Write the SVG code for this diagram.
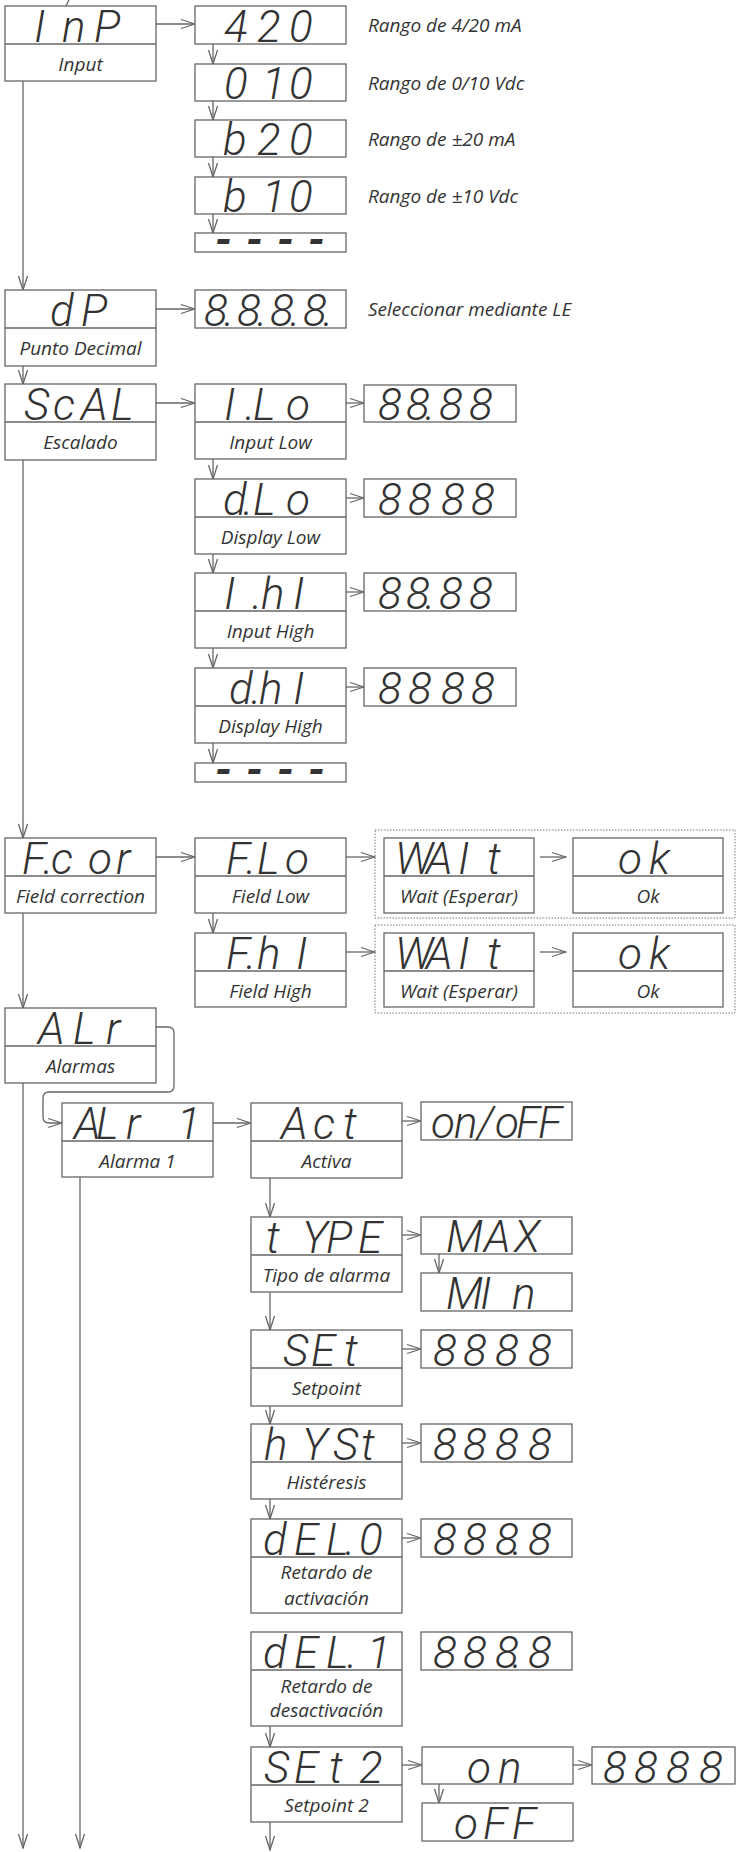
<svg xmlns="http://www.w3.org/2000/svg" width="736" height="1852" viewBox="0 0 736 1852">
<style>
.b{fill:#fff;stroke:#666;stroke-width:1.3}
.d{stroke:#666;stroke-width:1.3}
.s{font-family:Roboto,"DejaVu Sans",sans-serif;font-style:italic;font-weight:300;font-size:44px;fill:#333}
.s.k{font-weight:700}
.l{font-family:"Open Sans","Liberation Sans",sans-serif;font-style:italic;font-size:19px;fill:#333;text-anchor:middle}
.t{font-family:"Open Sans","Liberation Sans",sans-serif;font-style:italic;font-size:19px;fill:#333}
.c{fill:none;stroke:#666;stroke-width:1.3;marker-end:url(#ah)}
.g{fill:none;stroke:#777;stroke-width:1;stroke-dasharray:1.5 1.5}
</style>
<defs>
<marker id="ah" viewBox="0 0 16 12" markerWidth="16" markerHeight="12" refX="15" refY="6" orient="auto" markerUnits="userSpaceOnUse"><path d="M1,1.5 L15,6 L1,10.5" fill="none" stroke="#666" stroke-width="1.3"/></marker>
</defs>
<rect width="736" height="1852" fill="#fff"/>

<g id="connectors">
<path d="M69,0 L66,6" fill="none" stroke="#666" stroke-width="1.3"/>
<path class="c" d="M156,24 H195"/>
<path class="c" d="M213,44 V64"/>
<path class="c" d="M213,101 V120"/>
<path class="c" d="M213,157 V177"/>
<path class="c" d="M213,214 V233"/>
<path class="c" d="M23,81 V290"/>
<path class="c" d="M156,309 H195"/>
<path class="c" d="M23,366 V384"/>
<path class="c" d="M156,403 H195"/>
<path class="c" d="M346,403 H364"/>
<path class="c" d="M213,459 V479"/>
<path class="c" d="M346,498 H364"/>
<path class="c" d="M213,554 V573"/>
<path class="c" d="M346,592 H364"/>
<path class="c" d="M213,648 V668"/>
<path class="c" d="M346,687 H364"/>
<path class="c" d="M213,743 V763"/>
<path class="c" d="M23,460 V838"/>
<path class="c" d="M156,857 H195"/>
<path class="c" d="M346,857 H375"/>
<path class="c" d="M540,857 H566"/>
<path class="c" d="M213,913 V933"/>
<path class="c" d="M346,952 H375"/>
<path class="c" d="M540,952 H566"/>
<path class="c" d="M23,913 V1008"/>
<path class="c" d="M156,1027 H168 Q174,1027 174,1033 V1086 Q174,1092 168,1092 H49 Q43,1092 43,1098 V1117 Q43,1123 49,1123 H62"/>
<path class="c" d="M23,1083 V1848"/>
<path class="c" d="M80,1177 V1848"/>
<path class="c" d="M213,1123 H251"/>
<path class="c" d="M402,1121 H421"/>
<path class="c" d="M270,1178 V1217"/>
<path class="c" d="M402,1235 H421"/>
<path class="c" d="M439,1254 V1273"/>
<path class="c" d="M270,1292 V1330"/>
<path class="c" d="M402,1349 H421"/>
<path class="c" d="M270,1406 V1424"/>
<path class="c" d="M402,1443 H421"/>
<path class="c" d="M270,1499 V1519"/>
<path class="c" d="M402,1538 H421"/>
<path class="c" d="M270,1726 V1747"/>
<path class="c" d="M402,1765 H422"/>
<path class="c" d="M573,1765 H592"/>
<path class="c" d="M439,1784 V1803"/>
<path class="c" d="M270,1822 V1850"/>
</g>

<g id="n-inp"><rect class="b" x="5" y="6" width="151" height="75"/><line class="d" x1="5" y1="44" x2="156" y2="44"/><text class="s" x="34 62 94" y="42">InP</text><text class="l" x="80.5" y="71">Input</text></g>
<g id="n-420"><rect class="b" x="195" y="6" width="151" height="38"/><text class="s" x="224 257 289" y="42">420</text></g>
<text class="t" x="368" y="32">Rango de 4/20 mA</text>
<g id="n-010"><rect class="b" x="195" y="64" width="151" height="37"/><text class="s" x="224 262 289" y="99">010</text></g>
<text class="t" x="368" y="90">Rango de 0/10 Vdc</text>
<g id="n-b20"><rect class="b" x="195" y="120" width="151" height="37"/><text class="s" x="223 257 289" y="155">b20</text></g>
<text class="t" x="368" y="146">Rango de ±20 mA</text>
<g id="n-b10"><rect class="b" x="195" y="177" width="151" height="37"/><text class="s" x="223 262 289" y="212">b10</text></g>
<text class="t" x="368" y="203">Rango de ±10 Vdc</text>
<g id="n-dash1"><rect class="b" x="195" y="233" width="151" height="19"/><text class="s k" x="215 246 277 308" y="255">----</text></g>

<g id="n-dp"><rect class="b" x="5" y="290" width="151" height="76"/><line class="d" x1="5" y1="328" x2="156" y2="328"/><text class="s" x="50 81" y="326">dP</text><text class="l" x="80.5" y="355">Punto Decimal</text></g>
<g id="n-dpval"><rect class="b" x="195" y="290" width="151" height="38"/><text class="s" x="204 224 237 257 270 290 303 323" y="326">8.8.8.8.</text></g>
<text class="t" x="368" y="316">Seleccionar mediante LE</text>

<g id="n-scal"><rect class="b" x="5" y="384" width="151" height="76"/><line class="d" x1="5" y1="422" x2="156" y2="422"/><text class="s" x="24 53 81 111" y="420">ScAL</text><text class="l" x="80.5" y="449">Escalado</text></g>
<g id="n-ilo"><rect class="b" x="195" y="384" width="151" height="75"/><line class="d" x1="195" y1="422" x2="346" y2="422"/><text class="s" x="224 245 253 286" y="420">I.Lo</text><text class="l" x="270.5" y="449">Input Low</text></g>
<g id="n-ilo-v"><rect class="b" x="364" y="385" width="152" height="37"/><text class="s" x="378 406 425 439 469" y="420">88.88</text></g>
<g id="n-dlo"><rect class="b" x="195" y="479" width="151" height="75"/><line class="d" x1="195" y1="517" x2="346" y2="517"/><text class="s" x="223 243 253 286" y="515">d.Lo</text><text class="l" x="270.5" y="544">Display Low</text></g>
<g id="n-dlo-v"><rect class="b" x="364" y="479" width="152" height="38"/><text class="s" x="378 408 441 471" y="515">8888</text></g>
<g id="n-ihi"><rect class="b" x="195" y="573" width="151" height="75"/><line class="d" x1="195" y1="611" x2="346" y2="611"/><text class="s" x="224 252 261 293" y="609">I.hI</text><text class="l" x="270.5" y="638">Input High</text></g>
<g id="n-ihi-v"><rect class="b" x="364" y="573" width="152" height="38"/><text class="s" x="378 406 425 439 469" y="609">88.88</text></g>
<g id="n-dhi"><rect class="b" x="195" y="668" width="151" height="75"/><line class="d" x1="195" y1="706" x2="346" y2="706"/><text class="s" x="229 251 259 293" y="704">d.hI</text><text class="l" x="270.5" y="733">Display High</text></g>
<g id="n-dhi-v"><rect class="b" x="364" y="668" width="152" height="38"/><text class="s" x="378 408 441 471" y="704">8888</text></g>
<g id="n-dash2"><rect class="b" x="195" y="763" width="151" height="19"/><text class="s k" x="215 246 277 308" y="785">----</text></g>

<g id="n-fcor"><rect class="b" x="5" y="838" width="151" height="75"/><line class="d" x1="5" y1="876" x2="156" y2="876"/><text class="s" x="22 43 51 88 116" y="874">F.cor</text><text class="l" x="80.5" y="903">Field correction</text></g>
<g id="n-flo"><rect class="b" x="195" y="838" width="151" height="75"/><line class="d" x1="195" y1="876" x2="346" y2="876"/><text class="s" x="226 246 257 285" y="874">F.Lo</text><text class="l" x="270.5" y="903">Field Low</text></g>
<g id="grp-lo"><rect class="g" x="375" y="830" width="360" height="88"/></g>
<g id="n-wait1"><rect class="b" x="384" y="838" width="150" height="75"/><line class="d" x1="384" y1="876" x2="534" y2="876"/><text class="s" x="395 426 458 487" y="874">WAIt</text><text class="l" x="459" y="903">Wait (Esperar)</text></g>
<g id="n-ok1"><rect class="b" x="573" y="838" width="150" height="75"/><line class="d" x1="573" y1="876" x2="723" y2="876"/><text class="s" x="618 649" y="874">ok</text><text class="l" x="648" y="903">Ok</text></g>
<g id="n-fhi"><rect class="b" x="195" y="933" width="151" height="74"/><line class="d" x1="195" y1="971" x2="346" y2="971"/><text class="s" x="226 246 257 296" y="969">F.hI</text><text class="l" x="270.5" y="998">Field High</text></g>
<g id="grp-hi"><rect class="g" x="375" y="925" width="360" height="88"/></g>
<g id="n-wait2"><rect class="b" x="384" y="933" width="150" height="74"/><line class="d" x1="384" y1="971" x2="534" y2="971"/><text class="s" x="395 426 458 487" y="969">WAIt</text><text class="l" x="459" y="998">Wait (Esperar)</text></g>
<g id="n-ok2"><rect class="b" x="573" y="933" width="150" height="74"/><line class="d" x1="573" y1="971" x2="723" y2="971"/><text class="s" x="618 649" y="969">ok</text><text class="l" x="648" y="998">Ok</text></g>

<g id="n-alr"><rect class="b" x="5" y="1008" width="151" height="75"/><line class="d" x1="5" y1="1046" x2="156" y2="1046"/><text class="s" x="38 73 106" y="1044">ALr</text><text class="l" x="80.5" y="1073">Alarmas</text></g>
<g id="n-alr1"><rect class="b" x="62" y="1103" width="151" height="74"/><line class="d" x1="62" y1="1141" x2="213" y2="1141"/><text class="s" x="74 96 126 177" y="1139">ALr1</text><text class="l" x="137.5" y="1168">Alarma 1</text></g>
<g id="n-act"><rect class="b" x="251" y="1103" width="151" height="75"/><line class="d" x1="251" y1="1141" x2="402" y2="1141"/><text class="s" x="281 313 343" y="1139">Act</text><text class="l" x="326.5" y="1168">Activa</text></g>
<g id="n-act-v"><rect class="b" x="421" y="1102" width="151" height="38"/><text class="s" x="431 454 477 495 516 538" y="1138">on/oFF</text></g>
<g id="n-type"><rect class="b" x="251" y="1217" width="151" height="75"/><line class="d" x1="251" y1="1255" x2="402" y2="1255"/><text class="s" x="266 302 326 358" y="1253">tYPE</text><text class="l" x="326.5" y="1282">Tipo de alarma</text></g>
<g id="n-max"><rect class="b" x="421" y="1217" width="151" height="37"/><text class="s" x="446 484 514" y="1252">MAX</text></g>
<g id="n-min"><rect class="b" x="421" y="1273" width="151" height="38"/><text class="s" x="446 480 512" y="1309">MIn</text></g>
<g id="n-set"><rect class="b" x="251" y="1330" width="151" height="76"/><line class="d" x1="251" y1="1368" x2="402" y2="1368"/><text class="s" x="283 311 344" y="1366">SEt</text><text class="l" x="326.5" y="1395">Setpoint</text></g>
<g id="n-set-v"><rect class="b" x="421" y="1330" width="151" height="38"/><text class="s" x="433 463 495 528" y="1366">8888</text></g>
<g id="n-hyst"><rect class="b" x="251" y="1424" width="151" height="75"/><line class="d" x1="251" y1="1462" x2="402" y2="1462"/><text class="s" x="264 302 333 361" y="1460">hYSt</text><text class="l" x="326.5" y="1489">Histéresis</text></g>
<g id="n-hyst-v"><rect class="b" x="421" y="1424" width="151" height="38"/><text class="s" x="433 463 495 528" y="1460">8888</text></g>
<g id="n-del0"><rect class="b" x="251" y="1519" width="151" height="94"/><line class="d" x1="251" y1="1557" x2="402" y2="1557"/><text class="s" x="263 294 326 345 359" y="1555">dEL.0</text><text class="l" x="326.5" y="1579">Retardo de</text><text class="l" x="326.5" y="1605">activación</text></g>
<g id="n-del0-v"><rect class="b" x="421" y="1519" width="151" height="38"/><text class="s" x="433 463 495 512 528" y="1555">888.8</text></g>
<g id="n-del1"><rect class="b" x="251" y="1632" width="151" height="94"/><line class="d" x1="251" y1="1670" x2="402" y2="1670"/><text class="s" x="263 294 326 347 367" y="1668">dEL.1</text><text class="l" x="326.5" y="1693">Retardo de</text><text class="l" x="326.5" y="1717">desactivación</text></g>
<g id="n-del1-v"><rect class="b" x="421" y="1632" width="151" height="38"/><text class="s" x="433 463 495 512 528" y="1668">888.8</text></g>
<g id="n-set2"><rect class="b" x="251" y="1747" width="151" height="75"/><line class="d" x1="251" y1="1785" x2="402" y2="1785"/><text class="s" x="264 294 329 359" y="1783">SEt2</text><text class="l" x="326.5" y="1812">Setpoint 2</text></g>
<g id="n-on"><rect class="b" x="422" y="1747" width="151" height="37"/><text class="s" x="467 498" y="1783">on</text></g>
<g id="n-on-v"><rect class="b" x="592" y="1747" width="143" height="37"/><text class="s" x="603 634 666 699" y="1783">8888</text></g>
<g id="n-off"><rect class="b" x="422" y="1803" width="151" height="38"/><text class="s" x="454 483 512" y="1839">oFF</text></g>
</svg>
